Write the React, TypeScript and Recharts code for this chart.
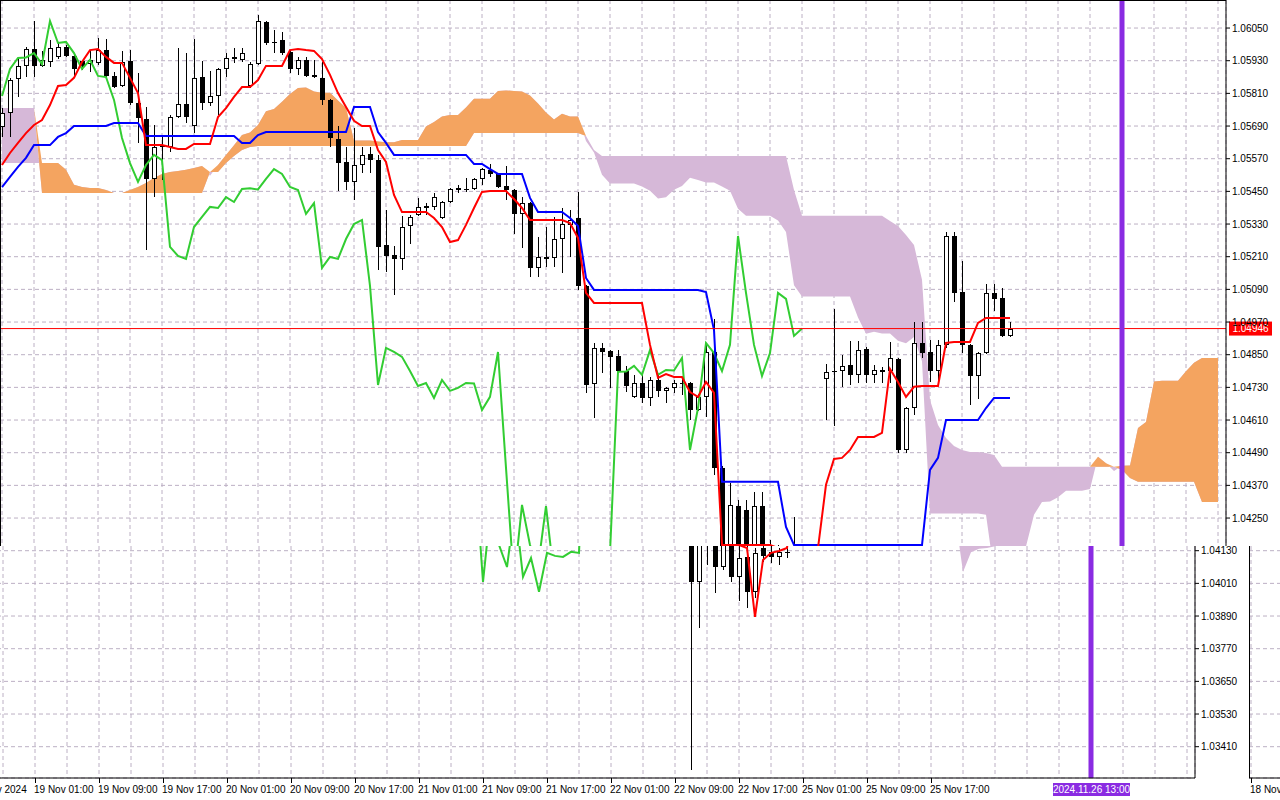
import React from 'react'
import {
  ComposedChart, Bar, Line, Area, XAxis, YAxis,
  CartesianGrid, ReferenceLine,
} from 'recharts'

// ─── H1 candles, 18 Nov 17:00 … 25 Nov 23:00 ─────────────────────
const opens = [
  1.05687, 1.05738, 1.05863, 1.05911, 1.05973, 1.05911, 1.05925, 1.05944, 1.05980, 1.05947,
  1.05929, 1.05918, 1.05922, 1.05969, 1.05874, 1.05837, 1.05929, 1.05775, 1.05716, 1.05496,
  1.05613, 1.05613, 1.05723, 1.05771, 1.05690, 1.05870, 1.05775, 1.05800, 1.05900, 1.05940,
  1.05933, 1.05837, 1.05918, 1.06072, 1.05995, 1.06006, 1.05962, 1.05900, 1.05933, 1.05878,
  1.05867, 1.05786, 1.05642, 1.05558, 1.05485, 1.05547, 1.05587, 1.05565, 1.05253, 1.05216,
  1.05202, 1.05323, 1.05363, 1.05396, 1.05393, 1.05352, 1.05411, 1.05459, 1.05459, 1.05459,
  1.05496, 1.05529, 1.05514, 1.05470, 1.05455, 1.05367, 1.05407, 1.05169, 1.05209, 1.05205,
  1.05275, 1.05327, 1.05352, 1.05103, 1.04743, 1.04875, 1.04864, 1.04845, 1.04790, 1.04695,
  1.04746, 1.04691, 1.04757, 1.04717, 1.04728, 1.04746, 1.04746, 1.04647, 1.04695, 1.04860,
  1.04434, 1.04015, 1.04294, 1.04280, 1.04070, 1.04294, 1.04034, 1.04107, 1.03979, 1.04140,
  1.04126, 1.04107, 1.04126, 1.04761, 1.04790, 1.04790, 1.04812, 1.04776, 1.04871, 1.04776,
  1.04790, 1.04790, 1.04834, 1.04500, 1.04654, 1.04893, 1.04860, 1.04790, 1.04886, 1.05286,
  1.05080, 1.04886, 1.04772, 1.04856, 1.05077, 1.05058, 1.04919,
]
const highs = [
  1.05756, 1.05867, 1.05944, 1.05980, 1.06076, 1.05966, 1.06006, 1.05995, 1.05988, 1.05958,
  1.05933, 1.05969, 1.06013, 1.06010, 1.05889, 1.05966, 1.05969, 1.05885, 1.05760, 1.05694,
  1.05657, 1.05731, 1.05977, 1.05958, 1.06010, 1.05929, 1.05892, 1.05903, 1.05958, 1.05977,
  1.05977, 1.05925, 1.06098, 1.06076, 1.06043, 1.06035, 1.05969, 1.05944, 1.05944, 1.05933,
  1.05925, 1.05790, 1.05690, 1.05613, 1.05683, 1.05613, 1.05613, 1.05584, 1.05382, 1.05249,
  1.05360, 1.05363, 1.05426, 1.05407, 1.05444, 1.05415, 1.05463, 1.05474, 1.05499, 1.05499,
  1.05536, 1.05551, 1.05518, 1.05543, 1.05458, 1.05429, 1.05410, 1.05283, 1.05319, 1.05356,
  1.05389, 1.05382, 1.05448, 1.05106, 1.04893, 1.04893, 1.04867, 1.04867, 1.04809, 1.04776,
  1.04783, 1.04768, 1.04776, 1.04732, 1.04757, 1.04768, 1.04750, 1.04706, 1.04893, 1.04981,
  1.04440, 1.04379, 1.04316, 1.04316, 1.04346, 1.04346, 1.04170, 1.04151, 1.04140, 1.04254,
  1.04151, 1.04140, 1.04140, 1.04816, 1.05018, 1.04849, 1.04901, 1.04901, 1.04878, 1.04812,
  1.04805, 1.04897, 1.04838, 1.04658, 1.04970, 1.04970, 1.04904, 1.04904, 1.05301, 1.05301,
  1.05194, 1.04890, 1.04860, 1.05110, 1.05110, 1.05095, 1.04970,
]
const lows = [
  1.05650, 1.05650, 1.05797, 1.05870, 1.05870, 1.05907, 1.05907, 1.05936, 1.05944, 1.05870,
  1.05896, 1.05889, 1.05914, 1.05870, 1.05830, 1.05833, 1.05767, 1.05628, 1.05235, 1.05429,
  1.05492, 1.05595, 1.05720, 1.05701, 1.05664, 1.05749, 1.05764, 1.05731, 1.05870, 1.05922,
  1.05925, 1.05830, 1.05914, 1.05988, 1.05958, 1.05951, 1.05885, 1.05878, 1.05870, 1.05867,
  1.05767, 1.05613, 1.05451, 1.05455, 1.05418, 1.05518, 1.05518, 1.05161, 1.05154, 1.05069,
  1.05161, 1.05257, 1.05360, 1.05363, 1.05382, 1.05347, 1.05407, 1.05444, 1.05448, 1.05455,
  1.05474, 1.05503, 1.05463, 1.05418, 1.05294, 1.05242, 1.05136, 1.05136, 1.05172, 1.05172,
  1.05150, 1.05209, 1.05088, 1.04710, 1.04618, 1.04783, 1.04728, 1.04787, 1.04713, 1.04691,
  1.04673, 1.04662, 1.04695, 1.04673, 1.04710, 1.04702, 1.04610, 1.04643, 1.04621, 1.04408,
  1.03325, 1.03846, 1.04078, 1.03975, 1.04059, 1.04015, 1.03946, 1.03920, 1.03957, 1.04089,
  1.04085, 1.04078, 1.04103, 1.04610, 1.04588, 1.04732, 1.04739, 1.04746, 1.04746, 1.04746,
  1.04746, 1.04746, 1.04489, 1.04489, 1.04629, 1.04838, 1.04750, 1.04750, 1.04875, 1.05044,
  1.04856, 1.04665, 1.04687, 1.04853, 1.05011, 1.04915, 1.04915,
]
const closes = [
  1.05738, 1.05859, 1.05911, 1.05973, 1.05911, 1.05933, 1.05977, 1.05980, 1.05947, 1.05900,
  1.05911, 1.05933, 1.05969, 1.05874, 1.05833, 1.05925, 1.05775, 1.05720, 1.05496, 1.05613,
  1.05620, 1.05723, 1.05771, 1.05723, 1.05867, 1.05775, 1.05800, 1.05900, 1.05940, 1.05942,
  1.05958, 1.05918, 1.06076, 1.05995, 1.05999, 1.05958, 1.05900, 1.05933, 1.05874, 1.05870,
  1.05786, 1.05646, 1.05554, 1.05485, 1.05547, 1.05584, 1.05565, 1.05246, 1.05213, 1.05202,
  1.05319, 1.05356, 1.05393, 1.05389, 1.05429, 1.05411, 1.05459, 1.05461, 1.05457, 1.05496,
  1.05532, 1.05514, 1.05466, 1.05455, 1.05367, 1.05407, 1.05169, 1.05209, 1.05202, 1.05275,
  1.05330, 1.05345, 1.05103, 1.04739, 1.04875, 1.04860, 1.04842, 1.04790, 1.04735, 1.04746,
  1.04691, 1.04757, 1.04717, 1.04728, 1.04746, 1.04744, 1.04647, 1.04695, 1.04860, 1.04434,
  1.04015, 1.04298, 1.04151, 1.04070, 1.04294, 1.04034, 1.04103, 1.03979, 1.04122, 1.04111,
  1.04107, 1.04126, 1.04122, 1.04787, 1.04788, 1.04809, 1.04776, 1.04867, 1.04776, 1.04794,
  1.04792, 1.04838, 1.04500, 1.04654, 1.04893, 1.04856, 1.04790, 1.04886, 1.05286, 1.05077,
  1.04886, 1.04772, 1.04856, 1.05077, 1.05055, 1.04919, 1.04946,
]

// ─── Ichimoku lines ──────────────────────────────────────────────
const tenkan = [
  1.05547, 1.05591, 1.05628, 1.05664, 1.05694, 1.05712, 1.05767, 1.05837, 1.05841, 1.05867,
  1.05925, 1.05969, 1.05973, 1.05944, 1.05922, 1.05922, 1.05867, 1.05811, 1.05620, 1.05620,
  1.05620, 1.05613, 1.05606, 1.05606, 1.05624, 1.05624, 1.05624, 1.05723, 1.05756, 1.05797,
  1.05833, 1.05833, 1.05859, 1.05911, 1.05911, 1.05911, 1.05969, 1.05973, 1.05969, 1.05966,
  1.05936, 1.05878, 1.05811, 1.05760, 1.05709, 1.05690, 1.05690, 1.05602, 1.05558, 1.05437,
  1.05374, 1.05374, 1.05374, 1.05374, 1.05352, 1.05319, 1.05264, 1.05271, 1.05327, 1.05389,
  1.05448, 1.05451, 1.05451, 1.05451, 1.05422, 1.05389, 1.05345, 1.05345, 1.05345, 1.05345,
  1.05345, 1.05334, 1.05279, 1.05077, 1.05040, 1.05040, 1.05040, 1.05040, 1.05040, 1.05040,
  1.05040, 1.04886, 1.04765, 1.04779, 1.04768, 1.04768, 1.04713, 1.04695, 1.04750, 1.04710,
  1.04151, 1.04151, 1.04151, 1.04151, 1.04151, 1.04151, 1.04151, 1.04140, 1.03887, 1.04096,
  1.04122, 1.04129, 1.04140, 1.04372, 1.04467, 1.04471, 1.04500, 1.04548, 1.04548, 1.04548,
  1.04563, 1.04798, 1.04750, 1.04695, 1.04732, 1.04735, 1.04735, 1.04735, 1.04893, 1.04897,
  1.04897, 1.04897, 1.04967, 1.04985, 1.04985, 1.04985, 1.04985,
]
const kijun = [
  1.05466, 1.05503, 1.05540, 1.05573, 1.05620, 1.05620, 1.05620, 1.05650, 1.05664, 1.05690,
  1.05690, 1.05690, 1.05690, 1.05690, 1.05701, 1.05701, 1.05701, 1.05701, 1.05653, 1.05653,
  1.05653, 1.05653, 1.05653, 1.05653, 1.05653, 1.05653, 1.05653, 1.05653, 1.05653, 1.05653,
  1.05628, 1.05628, 1.05657, 1.05668, 1.05668, 1.05668, 1.05668, 1.05668, 1.05668, 1.05668,
  1.05668, 1.05668, 1.05668, 1.05668, 1.05760, 1.05760, 1.05760, 1.05668, 1.05628, 1.05584,
  1.05584, 1.05584, 1.05584, 1.05584, 1.05584, 1.05584, 1.05584, 1.05584, 1.05584, 1.05551,
  1.05551, 1.05532, 1.05514, 1.05514, 1.05514, 1.05514, 1.05426, 1.05374, 1.05374, 1.05374,
  1.05374, 1.05352, 1.05323, 1.05132, 1.05088, 1.05088, 1.05088, 1.05088, 1.05088, 1.05088,
  1.05088, 1.05088, 1.05088, 1.05088, 1.05088, 1.05088, 1.05088, 1.05088, 1.05080, 1.04941,
  1.04383, 1.04383, 1.04383, 1.04383, 1.04383, 1.04383, 1.04383, 1.04383, 1.04217, 1.04151,
  1.04151, 1.04151, 1.04151, 1.04151, 1.04151, 1.04151, 1.04151, 1.04151, 1.04151, 1.04151,
  1.04151, 1.04151, 1.04151, 1.04151, 1.04151, 1.04151, 1.04427, 1.04471, 1.04610, 1.04610,
  1.04610, 1.04610, 1.04610, 1.04654, 1.04691, 1.04691, 1.04691,
]
// Senkou spans run 26 bars past the last candle
const spanA = [
  1.05554, 1.05554, 1.05554, 1.05554, 1.05554, 1.05554, 1.05554, 1.05554, 1.05529, 1.05474,
  1.05466, 1.05462, 1.05462, 1.05455, 1.05444, 1.05444, 1.05455, 1.05466, 1.05481, 1.05499,
  1.05514, 1.05521, 1.05525, 1.05529, 1.05536, 1.05543, 1.05507, 1.05547, 1.05584, 1.05619,
  1.05657, 1.05666, 1.05694, 1.05744, 1.05753, 1.05779, 1.05808, 1.05830, 1.05832, 1.05817,
  1.05812, 1.05812, 1.05784, 1.05756, 1.05637, 1.05637, 1.05637, 1.05633, 1.05630, 1.05630,
  1.05639, 1.05639, 1.05639, 1.05688, 1.05705, 1.05725, 1.05731, 1.05731, 1.05758, 1.05790,
  1.05790, 1.05790, 1.05819, 1.05821, 1.05819, 1.05817, 1.05802, 1.05773, 1.05740, 1.05714,
  1.05735, 1.05725, 1.05725, 1.05635, 1.05593, 1.05511, 1.05479, 1.05479, 1.05479, 1.05479,
  1.05468, 1.05452, 1.05424, 1.05428, 1.05456, 1.05470, 1.05500, 1.05492, 1.05483, 1.05483,
  1.05468, 1.05452, 1.05386, 1.05360, 1.05360, 1.05360, 1.05360, 1.05343, 1.05301, 1.05105,
  1.05064, 1.05064, 1.05064, 1.05064, 1.05064, 1.05064, 1.05064, 1.04987, 1.04927, 1.04934,
  1.04928, 1.04928, 1.04901, 1.04892, 1.04915, 1.04826, 1.04267, 1.04267, 1.04267, 1.04267,
  1.04267, 1.04267, 1.04267, 1.04262, 1.04052, 1.04124, 1.04137, 1.04140, 1.04146, 1.04262,
  1.04309, 1.04311, 1.04326, 1.04350, 1.04350, 1.04350, 1.04357, 1.04475, 1.04451, 1.04423,
  1.04442, 1.04443, 1.04581, 1.04603, 1.04752, 1.04754, 1.04754, 1.04754, 1.04789, 1.04820,
  1.04838, 1.04838, 1.04838,
]
const spanB = [
  1.05756, 1.05756, 1.05756, 1.05756, 1.05756, 1.05444, 1.05444, 1.05444, 1.05444, 1.05444,
  1.05444, 1.05444, 1.05444, 1.05444, 1.05444, 1.05444, 1.05444, 1.05444, 1.05444, 1.05444,
  1.05444, 1.05444, 1.05444, 1.05444, 1.05444, 1.05444, 1.05521, 1.05521, 1.05554, 1.05580,
  1.05602, 1.05613, 1.05617, 1.05617, 1.05617, 1.05617, 1.05617, 1.05617, 1.05617, 1.05617,
  1.05617, 1.05617, 1.05617, 1.05617, 1.05617, 1.05617, 1.05617, 1.05617, 1.05617, 1.05617,
  1.05617, 1.05617, 1.05617, 1.05617, 1.05617, 1.05617, 1.05617, 1.05617, 1.05617, 1.05664,
  1.05664, 1.05664, 1.05664, 1.05664, 1.05664, 1.05664, 1.05664, 1.05664, 1.05664, 1.05664,
  1.05664, 1.05664, 1.05664, 1.05653, 1.05602, 1.05580, 1.05580, 1.05580, 1.05580, 1.05580,
  1.05580, 1.05580, 1.05580, 1.05580, 1.05580, 1.05580, 1.05580, 1.05580, 1.05580, 1.05580,
  1.05580, 1.05580, 1.05580, 1.05580, 1.05580, 1.05580, 1.05580, 1.05580, 1.05580, 1.05455,
  1.05360, 1.05360, 1.05360, 1.05360, 1.05360, 1.05360, 1.05360, 1.05360, 1.05360, 1.05360,
  1.05360, 1.05341, 1.05323, 1.05290, 1.05253, 1.05125, 1.04684, 1.04592, 1.04544, 1.04515,
  1.04500, 1.04493, 1.04493, 1.04489, 1.04482, 1.04438, 1.04438, 1.04438, 1.04438, 1.04438,
  1.04438, 1.04438, 1.04438, 1.04438, 1.04438, 1.04438, 1.04438, 1.04438, 1.04438, 1.04438,
  1.04427, 1.04397, 1.04383, 1.04383, 1.04383, 1.04383, 1.04383, 1.04383, 1.04383, 1.04383,
  1.04309, 1.04309, 1.04309,
]

const lastPrice = 1.04946
const cursorBar = 140                 // 2024.11.26 13:00
const cursorLabel = '2024.11.26 13:00'

const priceTicks = [
  1.06050, 1.05930, 1.05810, 1.05690, 1.05570, 1.05450, 1.05330, 1.05210, 1.05090, 1.04970,
  1.04850, 1.04730, 1.04610, 1.04490, 1.04370, 1.04250, 1.04130, 1.04010, 1.03890, 1.03770,
  1.03650, 1.03530, 1.03410,
]
const timeTicks = [0, 8, 16, 24, 32, 40, 48, 56, 64, 72, 80, 88, 96, 104, 112, 120]
const timeLabels = [
  '18 Nov 2024', '19 Nov 01:00', '19 Nov 09:00', '19 Nov 17:00', '20 Nov 01:00',
  '20 Nov 09:00', '20 Nov 17:00', '21 Nov 01:00', '21 Nov 09:00', '21 Nov 17:00',
  '22 Nov 01:00', '22 Nov 09:00', '22 Nov 17:00', '25 Nov 01:00', '25 Nov 09:00',
  '25 Nov 17:00',
]

// ─── layout ──────────────────────────────────────────────────────
const W = 1280
const H = 800
const AXIS_Y = 778        // bottom of the plot
const SPLIT = 546         // the screenshot tears here…
const SHIFT = 31          // …and the lower part slides left
const CHIKOU_SHIFT = 26
const gridBars = Array.from({ length: 39 }, (_, k) => k * 4)

type Part = 'top' | 'main' | 'wrap'

const rows = spanA.map((a, i) => ({
  i,
  o: opens[i] ?? null,
  h: highs[i] ?? null,
  l: lows[i] ?? null,
  c: closes[i] ?? null,
  tenkan: tenkan[i] ?? null,
  kijun: kijun[i] ?? null,
  chikou: closes[i + CHIKOU_SHIFT] ?? null,
  a,
  b: spanB[i],
}))

// Recharts has no candlestick: a ranged Bar [low, high] drawn by hand
const Candle = (props: any) => {
  const { x, y, width, height, payload } = props
  if (!payload || payload.o == null || !isFinite(y)) return <g />
  const { o, h, l, c } = payload
  const top = Math.min(y, y + height)
  const span = Math.abs(height)
  const k = h === l ? 0 : span / (h - l)
  const yO = top + (h - o) * k
  const yC = top + (h - c) * k
  const cx = Math.round(x + width / 2)
  const bTop = Math.min(yO, yC)
  const bH = Math.max(Math.abs(yO - yC), 1)
  const up = c > o
  return (
    <g shapeRendering="crispEdges">
      <line x1={cx + 0.5} x2={cx + 0.5} y1={top} y2={top + span} stroke="#000" strokeWidth={1} />
      {up
        ? <rect x={cx - 1.5} y={bTop + 0.5} width={4} height={Math.max(bH - 1, 0.5)} fill="#fff" stroke="#000" strokeWidth={1} />
        : <rect x={cx - 2} y={bTop} width={5} height={bH} fill="#000" />}
    </g>
  )
}

// only the copy that is actually on screen writes its labels
const PriceTick = ({ x, y, payload, part }: any) => {
  const shown = (part === 'top' && y < SPLIT) || (part === 'main' && y > SPLIT)
  if (!shown) return <g />
  return (
    <text x={x} y={y} dy={3.5} fontSize={10} fill="#000" textAnchor="start">
      {Number(payload.value).toFixed(5)}
    </text>
  )
}

const TimeTick = ({ x, payload, part }: any) => {
  const k = timeTicks.indexOf(payload.value)
  if (k < 0 || part === 'top' || (part === 'wrap' && k > 0)) return <g />
  return (
    <g>
      <line x1={x + 0.5} x2={x + 0.5} y1={AXIS_Y} y2={AXIS_Y + 5} stroke="#000" />
      <text x={x - 1} y={AXIS_Y + 15} fontSize={10} fill="#000">{timeLabels[k]}</text>
    </g>
  )
}

const PriceTag = ({ viewBox, part }: any) => {
  if (!viewBox || part !== 'top') return null
  const x = viewBox.x + viewBox.width + 3
  const y = viewBox.y
  return (
    <g>
      <rect x={x} y={y - 7} width={43} height={14} fill="#ff0000" />
      <text x={x + 21.5} y={y + 3.5} textAnchor="middle" fontSize={10} fill="#fff">
        {lastPrice.toFixed(5)}
      </text>
    </g>
  )
}

const CursorTag = ({ viewBox, part }: any) => {
  if (!viewBox || part !== 'main') return null
  const cx = viewBox.x
  return (
    <g>
      <rect x={cx - 38} y={AXIS_Y + 5} width={77} height={13} fill="#8a2be2" />
      <text x={cx + 0.5} y={AXIS_Y + 15} textAnchor="middle" fontSize={10} fill="#fff">{cursorLabel}</text>
    </g>
  )
}

// ─── one full terminal frame ─────────────────────────────────────
function Frame({ part }: { part: Part }) {
  return (
    <div style={{ position: 'relative', width: W, height: H, fontFamily: '"Liberation Sans", Arial, sans-serif' }}>
      <ComposedChart width={W} height={H} data={rows} margin={{ top: 0, right: 0, bottom: 0, left: 0 }}>
        <CartesianGrid stroke="#bcb0c4" strokeDasharray="4 3" />
        <XAxis
          dataKey="i" type="number" domain={[-0.25, 153]} allowDataOverflow
          ticks={gridBars} interval={0} height={22}
          axisLine={{ stroke: '#000' }} tickLine={false} tick={<TimeTick part={part} />}
        />
        <YAxis
          type="number" orientation="right" domain={[1.03295, 1.06153]} allowDataOverflow
          ticks={priceTicks} interval={0} width={54} tickSize={4} tickMargin={2}
          axisLine={{ stroke: '#000' }} tickLine={{ stroke: '#000' }} tick={<PriceTick part={part} />}
        />

        {/* cloud: thistle under everything, sandy brown where span A is on top */}
        <Area type="linear" dataKey={(d: any) => [d.a, d.b]} stroke="none" fill="#d6b8d8" fillOpacity={1} isAnimationActive={false} />
        <Area type="linear" dataKey={(d: any) => [d.b, Math.max(d.a, d.b)]} stroke="none" fill="#f4a460" fillOpacity={1} isAnimationActive={false} />

        <Bar dataKey={(d: any) => (d.h == null ? undefined : [d.l, d.h])} barSize={5} shape={<Candle />} isAnimationActive={false} />

        <Line type="linear" dataKey="chikou" stroke="#32cd32" strokeWidth={2} dot={false} isAnimationActive={false} />
        <Line type="linear" dataKey="kijun" stroke="#0000ff" strokeWidth={2} dot={false} isAnimationActive={false} />
        <Line type="linear" dataKey="tenkan" stroke="#ff0000" strokeWidth={2} dot={false} isAnimationActive={false} />

        <ReferenceLine y={lastPrice} stroke="#ff0000" strokeWidth={1} label={<PriceTag part={part} />} />
        <ReferenceLine x={cursorBar} stroke="#8a2be2" strokeWidth={5} label={<CursorTag part={part} />} />
      </ComposedChart>
      <div style={{ position: 'absolute', left: 0, top: 0, width: 1226, height: 1, background: '#000' }} />
      <div style={{ position: 'absolute', left: 0, top: 0, width: 1, height: AXIS_Y, background: '#000' }} />
    </div>
  )
}

export default function App() {
  return (
    <div style={{ position: 'absolute', left: 0, top: 0, width: W, height: H, overflow: 'hidden', background: '#fff' }}>
      <div style={{ position: 'absolute', left: 0, top: 0, width: W, height: SPLIT, overflow: 'hidden' }}>
        <Frame part="top" />
      </div>
      <div style={{ position: 'absolute', left: 0, top: SPLIT, width: W, height: H - SPLIT, overflow: 'hidden' }}>
        <div style={{ position: 'absolute', left: -SHIFT, top: -SPLIT }}><Frame part="main" /></div>
        <div style={{ position: 'absolute', left: W - SHIFT, top: -SPLIT }}><Frame part="wrap" /></div>
      </div>
    </div>
  )
}
